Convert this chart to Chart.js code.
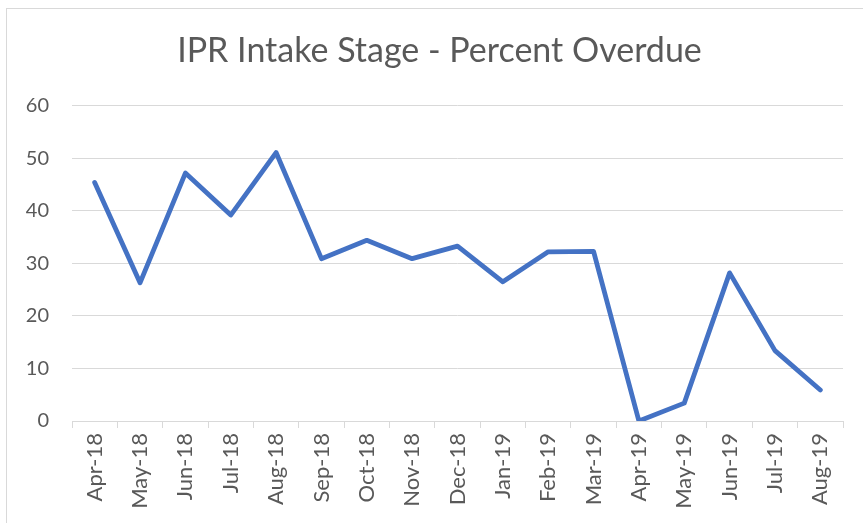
<!DOCTYPE html>
<html>
<head>
<meta charset="utf-8">
<script src="https://cdn.jsdelivr.net/npm/chart.js@4"></script>
<style>
    html, body { margin: 0; padding: 0; background: #fff; }
    #caja { width: 863px; height: 523px; }
</style>
</head>
<body>
<div id="caja"><canvas id="grafico" width="863" height="523"></canvas></div>
<script>
const meses = ["Apr-18", "May-18", "Jun-18", "Jul-18", "Aug-18", "Sep-18", "Oct-18", "Nov-18",
    "Dec-18", "Jan-19", "Feb-19", "Mar-19", "Apr-19", "May-19", "Jun-19", "Jul-19", "Aug-19"];
const porcentajeVencido = [45.4, 26.3, 47.2, 39.2, 51.1, 30.9, 34.4, 30.9,
    33.3, 26.5, 32.2, 32.3, 0, 3.4, 28.2, 13.4, 5.9];
const ticksY = [0, 10, 20, 30, 40, 50, 60];

const gris = "#595959";
const lineaGris = "#d9d9d9";

// fondo blanco y marco del grafico (solo se ven el borde de arriba y el izquierdo)
const marco = {
    id: "marco",
    beforeDraw(chart) {
        const c = chart.ctx;
        c.save();
        c.fillStyle = "#fff";
        c.fillRect(0, 0, chart.width, chart.height);
        c.strokeStyle = lineaGris;
        c.lineWidth = 1;
        c.strokeRect(6.5, 8.5, chart.width + 10, chart.height + 10);
        c.restore();
    },
    afterLayout(chart) {
        // el titulo va un poco mas a la derecha, como en el original
        if (chart.titleBlock) chart.titleBlock.left += 16;
    },
};

new Chart(document.getElementById("grafico").getContext("2d"), {
    type: "line",
    data: {
        labels: meses,
        datasets: [
            {
                label: "Percent Overdue",
                data: porcentajeVencido,
                borderColor: "#4472C4",
                borderWidth: 4.8,
                borderCapStyle: "round",
                borderJoinStyle: "round",
                pointRadius: 0,
                tension: 0,
                fill: false,
            },
        ],
    },
    options: {
        responsive: false,
        animation: false,
        layout: { padding: { top: 10, left: 20, right: 20, bottom: 10 } },
        plugins: {
            legend: { display: false },
            tooltip: { enabled: false },
            title: {
                display: true,
                text: "IPR Intake Stage - Percent Overdue",
                color: gris,
                font: { family: "Lato", size: 34, weight: "normal" },
                padding: { top: 21, bottom: 34 },
            },
        },
        scales: {
            x: {
                offset: true,
                grid: {
                    offset: true,
                    drawOnChartArea: false,
                    drawTicks: true,
                    tickLength: 7,
                    color: lineaGris,
                },
                border: { color: lineaGris, width: 1 },
                ticks: {
                    color: gris,
                    font: { family: "Lato", size: 22 },
                    minRotation: 90,
                    maxRotation: 90,
                    padding: 5,
                    autoSkip: false,
                },
                afterFit: (s) => { s.height = 92; },
            },
            y: {
                min: 0,
                max: 60,
                afterBuildTicks: (s) => { s.ticks = ticksY.map((v) => ({ value: v })); },
                grid: { color: lineaGris, drawTicks: false },
                border: { display: false },
                ticks: {
                    color: gris,
                    font: { family: "Lato", size: 20 },
                    padding: 23,
                },
                afterFit: (s) => { s.width = 52; },
            },
        },
    },
    plugins: [marco],
});
</script>
</body>
</html>
